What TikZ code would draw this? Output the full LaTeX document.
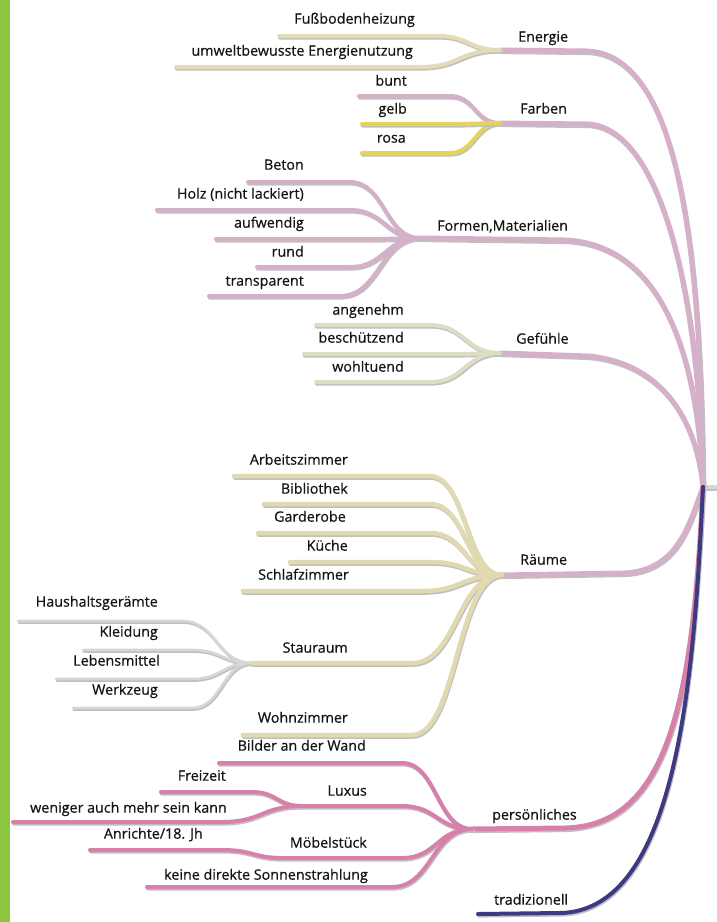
\documentclass[tikz,border=0pt]{standalone}
\usepackage{fontspec}
\setmainfont{Open Sans}
\newfontfamily\lblfont{Open Sans}[FakeBold=0.6]
\usetikzlibrary{calc}
\definecolor{mauve}{RGB}{214,176,200}
\definecolor{beigeE}{RGB}{226,221,180}
\definecolor{beigeR}{RGB}{225,218,176}
\definecolor{beigeG}{RGB}{223,220,196}
\definecolor{yell}{RGB}{229,211,90}
\definecolor{greyS}{RGB}{214,214,214}
\definecolor{pinkP}{RGB}{214,128,170}
\definecolor{navy}{RGB}{62,58,130}
\definecolor{shadowc}{RGB}{192,192,192}
\definecolor{greenbar}{RGB}{141,198,63}
\definecolor{textc}{RGB}{20,20,20}
\tikzset{
  twig/.style 2 args={draw=#1, line width=#2, line cap=round,
    preaction={draw=shadowc, line width=#2, line cap=round,
      transform canvas={shift={(0.8pt,-1.6pt)}}}},
  lbl/.style={font=\lblfont\fontsize{14.3}{17}\selectfont, inner sep=0pt, text=textc},
  lblr/.style={lbl, anchor=mid east},
  lbll/.style={lbl, anchor=mid west},
}
\newcommand\leaf[4]{%
  \draw[#1] (#2) -- ($(#2 -| #3)+(-#4,0)$)
    .. controls ($(#2 -| #3)+({-#4/2},0)$) and ($(#3)+({-#4/2},0)$) .. (#3);}
\begin{document}
\begin{tikzpicture}[x=1pt,y=-1pt]
\useasboundingbox (0,0) rectangle (716,922);
\fill[greenbar] (0,0) rectangle (10,922);

% coordinates
\coordinate (root) at (703,487);
\coordinate (stub) at (716,487);
\coordinate (JE) at (500,50);
\coordinate (JF) at (500,123);
\coordinate (JM) at (420,238);
\coordinate (JG) at (500,353);
\coordinate (JR) at (502,575);
\coordinate (JS) at (252,663);
\coordinate (JP) at (472,829);
\coordinate (JL) at (302,806);
\coordinate (JMo) at (283,858);

\coordinate (s-fuss) at (279,36);
\coordinate (s-umwelt) at (176,67);
\coordinate (s-bunt) at (359,96);
\coordinate (s-gelb) at (362,124);
\coordinate (s-rosa) at (362,153);
\coordinate (s-beton) at (248,182);
\coordinate (s-holz) at (157,210);
\coordinate (s-aufw) at (216,239);
\coordinate (s-rund) at (257,267);
\coordinate (s-transp) at (209,296);
\coordinate (s-angen) at (316,325);
\coordinate (s-besch) at (304,354);
\coordinate (s-wohlt) at (316,382);
\coordinate (s-arb) at (234,476);
\coordinate (s-bib) at (264,504);
\coordinate (s-gard) at (258,533);
\coordinate (s-kue) at (290,562);
\coordinate (s-schlaf) at (243,591);
\coordinate (s-wohn) at (243,735);
\coordinate (s-haus) at (18,621);
\coordinate (s-kleid) at (83,650);
\coordinate (s-lebens) at (56,679);
\coordinate (s-werk) at (73,708);
\coordinate (s-bild) at (219,763);
\coordinate (s-frei) at (161,792);
\coordinate (s-wenig) at (13,822);
\coordinate (s-anr) at (90,850);
\coordinate (s-sonne) at (147,887);
\coordinate (s-trad) at (478,914);

% main branches
\draw[twig={greyS}{4pt}] (root) -- (stub);
\draw[twig={mauve}{5pt}] (JE) -- (588,51) .. controls (675,56) and (701,230) .. (root);
\draw[twig={mauve}{5pt}] (JF) -- (588,124) .. controls (660,128) and (699,290) .. (root);
\draw[twig={mauve}{5pt}] (JM) -- (565,240) .. controls (655,244) and (697,340) .. (root);
\draw[twig={mauve}{5pt}] (JG) -- (588,356) .. controls (655,362) and (695,410) .. (root);
\draw[twig={mauve}{5pt}] (JR) -- (625,573) .. controls (680,570) and (690,520) .. (root);
\draw[twig={pinkP}{5pt}] (JP) -- (565,828) .. controls (672,826) and (693,690) .. (root);
\draw[twig={navy}{4pt}] (s-trad) -- (560,913) .. controls (677,911) and (694,680) .. (root);

% Energie
\leaf{twig={beigeE}{4pt}}{s-fuss}{JE}{62}
\leaf{twig={beigeE}{4pt}}{s-umwelt}{JE}{80}
% Farben
\leaf{twig={mauve}{4pt}}{s-bunt}{JF}{50}
\leaf{twig={yell}{4pt}}{s-rosa}{JF}{50}
\leaf{twig={yell}{4pt}}{s-gelb}{JF}{40}
% Formen
\leaf{twig={mauve}{4pt}}{s-beton}{JM}{70}
\leaf{twig={mauve}{4pt}}{s-holz}{JM}{70}
\leaf{twig={mauve}{4pt}}{s-aufw}{JM}{40}
\leaf{twig={mauve}{4pt}}{s-rund}{JM}{70}
\leaf{twig={mauve}{4pt}}{s-transp}{JM}{80}
% Gefuehle
\leaf{twig={beigeG}{4pt}}{s-angen}{JG}{70}
\leaf{twig={beigeG}{4pt}}{s-besch}{JG}{40}
\leaf{twig={beigeG}{4pt}}{s-wohlt}{JG}{70}
% Stauraum leaves
\leaf{twig={greyS}{2.6pt}}{s-haus}{JS}{70}
\leaf{twig={greyS}{2.6pt}}{s-kleid}{JS}{60}
\leaf{twig={greyS}{2.6pt}}{s-lebens}{JS}{60}
\leaf{twig={greyS}{2.6pt}}{s-werk}{JS}{60}
% Raeume
\leaf{twig={beigeR}{4.5pt}}{s-arb}{JR}{72}
\leaf{twig={beigeR}{4.5pt}}{s-bib}{JR}{72}
\leaf{twig={beigeR}{4.5pt}}{s-gard}{JR}{72}
\leaf{twig={beigeR}{4.5pt}}{s-kue}{JR}{72}
\leaf{twig={beigeR}{4.5pt}}{s-schlaf}{JR}{80}
\leaf{twig={beigeR}{4.5pt}}{JS}{JR}{90}
\leaf{twig={beigeR}{4.5pt}}{s-wohn}{JR}{90}
% persoenliches
\leaf{twig={pinkP}{4pt}}{s-frei}{JL}{50}
\leaf{twig={pinkP}{4pt}}{s-wenig}{JL}{80}
\leaf{twig={pinkP}{4pt}}{s-anr}{JMo}{60}
\leaf{twig={pinkP}{4pt}}{s-bild}{JP}{70}
\leaf{twig={pinkP}{4pt}}{JL}{JP}{70}
\leaf{twig={pinkP}{4pt}}{JMo}{JP}{70}
\leaf{twig={pinkP}{4pt}}{s-sonne}{JP}{80}

% labels
\node[lbll] (t-energie) at (518,39) {Energie};
\node[lblr] (t-fuss) at (415,21) {Fußbodenheizung};
\node[lblr] (t-umwelt) at (413,53) {umweltbewusste Energienutzung};
\node[lbll] (t-farben) at (520,111) {Farben};
\node[lblr] (t-bunt) at (407,83) {bunt};
\node[lblr] (t-gelb) at (407,111) {gelb};
\node[lblr] (t-rosa) at (406,140) {rosa};
\node[lbll] (t-formen) at (437,228) {Formen,Materialien};
\node[lblr] (t-beton) at (304,167) {Beton};
\node[lblr] (t-holz) at (304,196) {Holz (nicht lackiert)};
\node[lblr] (t-aufw) at (304,225) {aufwendig};
\node[lblr] (t-rund) at (304,254) {rund};
\node[lblr] (t-transp) at (304,283) {transparent};
\node[lbll] (t-gef) at (516,341) {Gefühle};
\node[lblr] (t-angen) at (404,312) {angenehm};
\node[lblr] (t-besch) at (404,340) {beschützend};
\node[lblr] (t-wohlt) at (404,369) {wohltuend};
\node[lbll] (t-raeume) at (520,562) {Räume};
\node[lblr] (t-arb) at (348,462) {Arbeitszimmer};
\node[lblr] (t-bib) at (348,491) {Bibliothek};
\node[lblr] (t-gard) at (346,519) {Garderobe};
\node[lblr] (t-kue) at (348,548) {Küche};
\node[lblr] (t-schlaf) at (349,577) {Schlafzimmer};
\node[lblr] (t-stau) at (348,650) {Stauraum};
\node[lblr] (t-wohn) at (348,720) {Wohnzimmer};
\node[lblr] (t-haus) at (158,604) {Haushaltsgerämte};
\node[lblr] (t-kleid) at (158,634) {Kleidung};
\node[lblr] (t-lebens) at (160,663) {Lebensmittel};
\node[lblr] (t-werk) at (158,692) {Werkzeug};
\node[lbll] (t-pers) at (492,817) {persönliches};
\node[lblr] (t-bild) at (366,748) {Bilder an der Wand};
\node[lblr] (t-luxus) at (367,793) {Luxus};
\node[lblr] (t-moebel) at (367,845) {Möbelstück};
\node[lblr] (t-sonne) at (368,877) {keine direkte Sonnenstrahlung};
\node[lblr] (t-frei) at (226,778) {Freizeit};
\node[lblr] (t-wenig) at (227,810) {weniger auch mehr sein kann};
\node[lblr] (t-anr) at (203,836) {Anrichte/18. Jh};
\node[lbll] (t-trad) at (494,902) {tradizionell};
\end{tikzpicture}
\end{document}
